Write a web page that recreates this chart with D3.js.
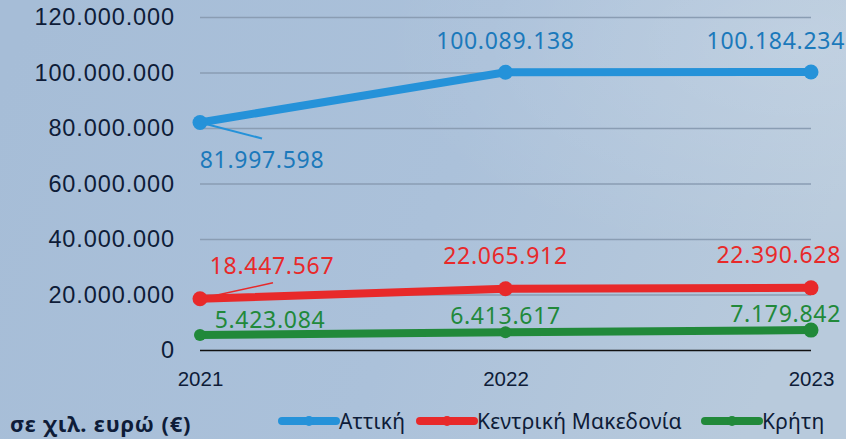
<!DOCTYPE html>
<html>
<head>
<meta charset="utf-8">
<script src="https://cdn.jsdelivr.net/npm/d3@7"></script>
<style>
body{margin:0;padding:0;overflow:hidden;}
svg{display:block;font-family:"Noto Sans",sans-serif;}
</style>
</head>
<body>
<div id="chart"></div>
<script>
let years=["2021","2022","2023"];
let seriesNames=["Αττική","Κεντρική Μακεδονία","Κρήτη"];
let attiki=[81997598,100089138,100184234];
let kentrikiMakedonia=[18447567,22065912,22390628];
let kriti=[5423084,6413617,7179842];
let yTicks=[0,20000000,40000000,60000000,80000000,100000000,120000000];
let unitLabel="σε χιλ. ευρώ (€)";

let width=846;
let height=439;
let colors=["#2592d9","#e8292a","#21893a"];
let labelColors=["#1b79bb","#e8292a","#21893a"];
let navy="#0e1c38";

let loc=d3.formatLocale({decimal:",",thousands:".",grouping:[3],currency:["","€"]});
let fmt=loc.format(",d");

let svg=d3.select("#chart").append("svg")
.attr("width",width)
.attr("height",height);

// background
let defs=svg.append("defs");
let grad=defs.append("linearGradient").attr("id","bg").attr("x1","0").attr("y1","0.2").attr("x2","1").attr("y2","0.4");
grad.append("stop").attr("offset","0%").attr("stop-color","#a6bdd7");
grad.append("stop").attr("offset","55%").attr("stop-color","#abc1da");
grad.append("stop").attr("offset","100%").attr("stop-color","#b8cadc");
let rg=defs.append("radialGradient").attr("id","glow").attr("cx","0.95").attr("cy","0.1").attr("r","0.5");
rg.append("stop").attr("offset","0%").attr("stop-color","#ffffff").attr("stop-opacity",0.15);
rg.append("stop").attr("offset","100%").attr("stop-color","#ffffff").attr("stop-opacity",0);
svg.append("rect").attr("width",width).attr("height",height).attr("fill","url(#bg)");
svg.append("rect").attr("width",width).attr("height",height).attr("fill","url(#glow)");

let x=d3.scalePoint().domain(years).range([200,811]);
let y=d3.scaleLinear().domain([0,120000000]).range([350,17]);

// y axis + gridlines
let yAxis=d3.axisLeft(y).tickValues(yTicks).tickFormat(fmt)
.tickSizeInner(-(811-200)).tickSizeOuter(0).tickPadding(25);
let gy=svg.append("g").attr("transform","translate(200,0)").call(yAxis);
gy.select(".domain").remove();
gy.selectAll(".tick line")
.attr("stroke",function(d){return d===0?"#111":"#8a9db3";})
.attr("stroke-width",function(d){return d===0?1.6:1.5;});
gy.selectAll(".tick text")
.attr("fill",navy)
.style("font-size","23.5px")
.style("letter-spacing","0.9px");

// x axis
let xAxis=d3.axisBottom(x).tickSize(0).tickPadding(21);
let gx=svg.append("g").attr("transform","translate(0,350)").call(xAxis);
gx.select(".domain").remove();
gx.selectAll(".tick text")
.attr("fill",navy)
.style("font-size","20.5px");

let allSeries=[attiki,kentrikiMakedonia,kriti];
let line=d3.line().x(function(d,i){return x(years[i]);}).y(function(d){return y(d);});

allSeries.forEach(function(s,k){
  svg.append("path")
  .datum(s)
  .attr("d",line)
  .attr("fill","none")
  .attr("stroke",colors[k])
  .attr("stroke-width",8)
  .attr("stroke-linecap","round");

  svg.selectAll(".pt"+k)
  .data(s)
  .enter()
  .append("circle")
  .attr("class","pt"+k)
  .attr("cx",function(d,i){return x(years[i]);})
  .attr("cy",function(d){return y(d);})
  .attr("r",function(d,i){return (k===2&&i<2)?6:7.5;})
  .attr("fill",colors[k]);
});

// data labels
let labelOffsets=[
  [[62,37,"middle"],[0,-32,"middle"],[34,-32,"end"]],
  [[72,-34,"middle"],[0,-34,"middle"],[30,-34,"end"]],
  [[70,-16,"middle"],[0,-17,"middle"],[30,-17,"end"]]
];
// leader lines for 2021 labels
let leaders=[[62,16],[73,-16]];
leaders.forEach(function(l,k){
  let px=x(years[0]),py=y(allSeries[k][0]);
  svg.append("line")
  .attr("x1",px).attr("y1",py)
  .attr("x2",px+l[0]).attr("y2",py+l[1])
  .attr("stroke",colors[k])
  .attr("stroke-width",k===0?2:1.6);
});

allSeries.forEach(function(s,k){
  svg.selectAll(".lb"+k)
  .data(s)
  .enter()
  .append("text")
  .attr("class","lb"+k)
  .attr("x",function(d,i){return x(years[i])+labelOffsets[k][i][0];})
  .attr("y",function(d){return y(d);})
  .attr("dy",function(d,i){return labelOffsets[k][i][1];})
  .attr("dominant-baseline","central")
  .attr("text-anchor",function(d,i){return labelOffsets[k][i][2];})
  .attr("fill",labelColors[k])
  .style("font-size","23px")
  .style("letter-spacing","0.7px")
  .text(function(d){return fmt(d);});
});

// unit label
svg.append("text")
.attr("x",10).attr("y",423)
.attr("dominant-baseline","central")
.attr("fill",navy)
.style("font-size","22px")
.style("letter-spacing","0.8px")
.style("font-weight","bold")
.text(unitLabel);

// legend
let legendX=[282,420,705];
seriesNames.forEach(function(n,k){
  let g=svg.append("g").attr("transform","translate("+legendX[k]+",421)");
  g.append("line").attr("x1",0).attr("x2",54).attr("y1",0).attr("y2",0)
  .attr("stroke",colors[k]).attr("stroke-width",8).attr("stroke-linecap","round");
  g.append("circle").attr("cx",27).attr("cy",0).attr("r",5).attr("fill",colors[k]);
  g.append("text").attr("x",57).attr("y",0)
  .attr("dominant-baseline","central")
  .attr("fill",navy)
  .style("font-size","21px")
  .style("letter-spacing","0.2px")
  .text(n);
});
</script>
</body>
</html>
